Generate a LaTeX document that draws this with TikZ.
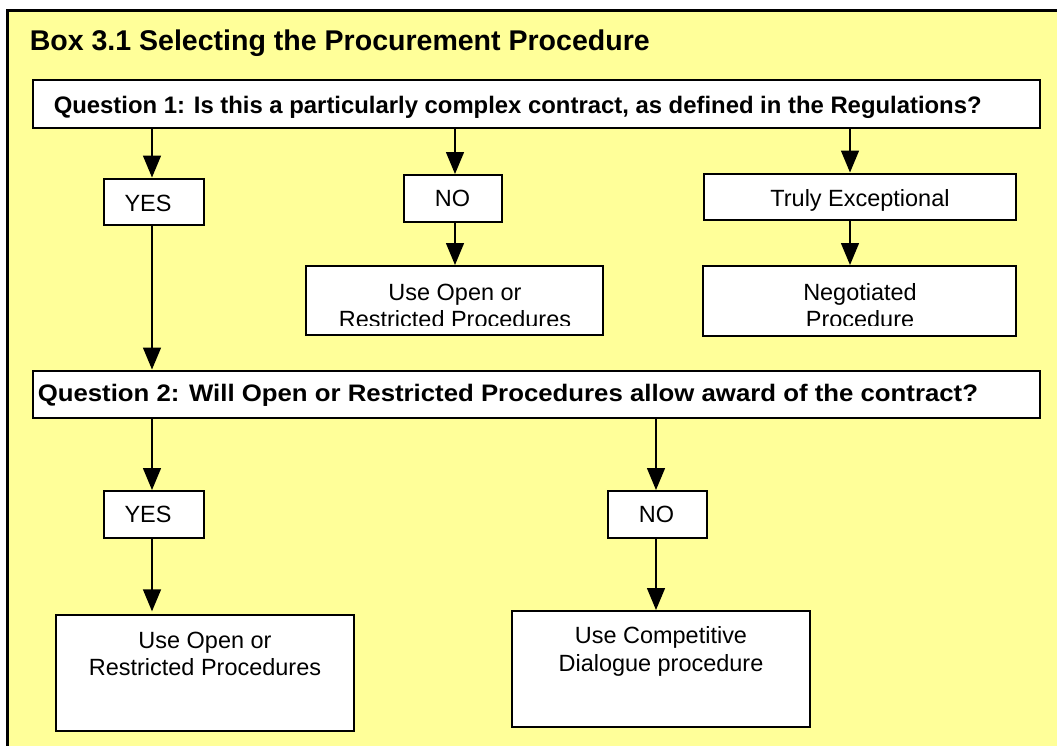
\documentclass[tikz,border=0pt]{standalone}
\usepackage{fontspec}
\setmainfont{Liberation Sans}
\usetikzlibrary{arrows.meta,fit,calc}
\definecolor{boxyellow}{HTML}{FFFF99}
\begin{document}
\begin{tikzpicture}[x=0.75pt,y=-0.75pt,
  box/.style={draw=black, line width=1.5pt, fill=white, inner sep=0pt},
  arr/.style={line width=1.1pt, -{Triangle[length=16.5pt,width=13.5pt]}},
  lbl/.style={anchor=base, inner sep=0pt, font=\fontsize{17.6}{20}\selectfont},
  qlbl/.style={anchor=base west, inner sep=0pt, font=\bfseries\fontsize{17.9}{20}\selectfont},
]
\clip (0,0) rectangle (1057,746);
\fill[white] (0,0) rectangle (1057,746);
% outer frame
\draw[line width=1.8pt, fill=boxyellow] (7.5,10.5) rectangle (1075,765);
\node[anchor=base west, inner sep=0pt, font=\bfseries\fontsize{21.4}{24}\selectfont] (title) at (29.5,50) {Box 3.1 Selecting the Procurement Procedure};

% Question 1
\node[box, fit={(33,80) (1040,127.5)}] (q1) {};
\node[qlbl] (q1t) at (53.5,113.3) {Question 1: Is this a particularly complex contract, as defined in the Regulations?};

% first row answers
\node[box, fit={(103.5,178.5) (203.5,225)}] (yes1) {};
\node[lbl] (yes1t) at (148,211.5) {YES};
\node[box, fit={(404,175) (502,222)}] (no1) {};
\node[lbl] (no1t) at (452.5,206) {NO};
\node[box, fit={(703.5,173.5) (1016,220)}] (tr) {};
\node[lbl] (trt) at (860,206) {Truly Exceptional};

% second row outcomes
\node[box, fit={(306,266) (603,335)}] (uo1) {};
\node[box, fit={(703,266) (1016,336)}] (neg) {};
\begin{scope}
\clip (306,266) rectangle (1016,325);
\node[lbl] (uo1a) at (455,300) {Use Open or};
\node[lbl] (uo1b) at (455,327) {Restricted Procedures};
\node[lbl] (nega) at (860,300) {Negotiated};
\node[lbl] (negb) at (860,327) {Procedure};
\end{scope}

% Question 2
\node[box, fit={(33,370.5) (1040,418)}] (q2) {};
\node[qlbl] (q2t) at (37.5,401) {\scalebox{1.08}[1]{Question 2: Will Open or Restricted Procedures allow award of the contract?}};

\node[box, fit={(104,491) (203.5,538)}] (yes2) {};
\node[lbl] (yes2t) at (148,522.5) {YES};
\node[box, fit={(607.5,491) (706.5,537.5)}] (no2) {};
\node[lbl] (no2t) at (656.5,522.5) {NO};

\node[box, fit={(56,615) (354,731)}] (uo2) {};
\node[lbl] (uo2a) at (205,648.3) {Use Open or};
\node[lbl] (uo2b) at (205,675) {Restricted Procedures};
\node[box, fit={(512,611) (810,727)}] (uc) {};
\node[lbl] (uca) at (661,643.3) {Use Competitive};
\node[lbl] (ucb) at (661,671) {Dialogue procedure};

% arrow columns
\coordinate (c1) at (152,0);
\coordinate (c2) at (455,0);
\coordinate (c3) at (850,0);
\coordinate (c4) at (656,0);

\draw[arr] (q1.south -| c1) -- (yes1.north -| c1);
\draw[arr] (q1.south -| c2) -- (no1.north -| c2);
\draw[arr] (q1.south -| c3) -- (tr.north -| c3);
\draw[arr] (no1.south -| c2) -- (uo1.north -| c2);
\draw[arr] (tr.south -| c3) -- (neg.north -| c3);
\draw[arr] (yes1.south -| c1) -- (q2.north -| c1);
\draw[arr] (q2.south -| c1) -- (yes2.north -| c1);
\draw[arr] (q2.south -| c4) -- (no2.north -| c4);
\draw[arr] (yes2.south -| c1) -- ([yshift=2pt]uo2.north -| c1);
\draw[arr] (no2.south -| c4) -- (uc.north -| c4);
\end{tikzpicture}
\end{document}
